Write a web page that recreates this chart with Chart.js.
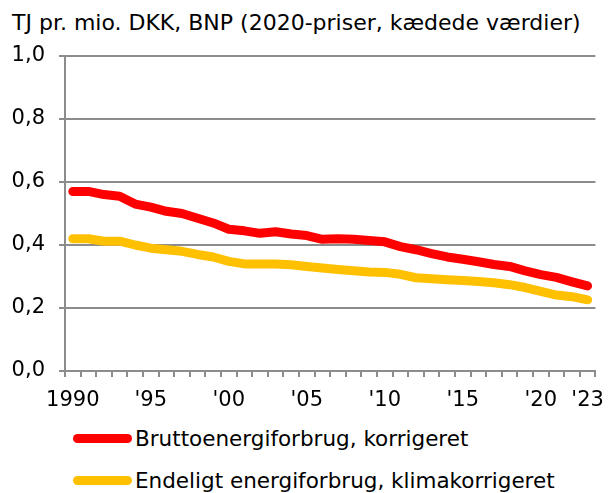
<!DOCTYPE html>
<html>
<head>
<meta charset="utf-8">
<script src="https://cdn.jsdelivr.net/npm/chart.js@4"></script>
<style>
  body { margin: 0; background: #fff; font-family: "DejaVu Sans", Verdana, sans-serif; color: #000; }
  #wrap { position: relative; width: 615px; height: 493px; overflow: hidden; }
  #title { position: absolute; left: 12px; top: 10px; font-size: 22px; white-space: nowrap; }
  #chartBox { position: absolute; left: 0; top: 0; width: 615px; height: 420px; }
  .leg { position: absolute; left: 73px; font-size: 21.5px; white-space: nowrap; display: flex; align-items: center; height: 26px; }
  .leg span.sw { display: inline-block; width: 59px; height: 9px; border-radius: 5px; margin-right: 3px; }
</style>
</head>
<body>
<div id="wrap">
  <div id="title">TJ pr. mio. DKK, BNP (2020-priser, kædede værdier)</div>
  <div id="chartBox"><canvas id="chart" width="615" height="420"></canvas></div>
  <div class="leg" style="top:425px"><span class="sw" style="background:#ff0000"></span>Bruttoenergiforbrug, korrigeret</div>
  <div class="leg" style="top:467px"><span class="sw" style="background:#ffc000"></span>Endeligt energiforbrug, klimakorrigeret</div>
</div>
<script>
const years = [];
for (let y = 1990; y <= 2023; y++) years.push(y);

const tickLabels = { 1990: "1990", 1995: "'95", 2000: "'00", 2005: "'05", 2010: "'10", 2015: "'15", 2020: "'20", 2023: "'23" };

const brutto = [
  0.570, 0.570, 0.560, 0.555, 0.530, 0.520, 0.507, 0.500, 0.485, 0.470,
  0.450, 0.445, 0.437, 0.442, 0.435, 0.430, 0.418, 0.420, 0.418, 0.414,
  0.410, 0.395, 0.385, 0.373, 0.362, 0.355, 0.347, 0.338, 0.332, 0.318,
  0.306, 0.297, 0.283, 0.270
];

const endeligt = [
  0.420, 0.420, 0.412, 0.412, 0.400, 0.390, 0.385, 0.380, 0.370, 0.362,
  0.348, 0.340, 0.340, 0.340, 0.337, 0.332, 0.327, 0.322, 0.318, 0.314,
  0.313, 0.307, 0.296, 0.293, 0.290, 0.287, 0.284, 0.280, 0.274, 0.265,
  0.253, 0.241, 0.236, 0.226
];

const gridColor = "#8c8c8c";
const font = { family: "'DejaVu Sans', Verdana, sans-serif", size: 21 };

new Chart(document.getElementById("chart"), {
  type: "line",
  data: {
    labels: years,
    datasets: [
      {
        label: "Bruttoenergiforbrug, korrigeret",
        data: brutto,
        borderColor: "#ff0000",
        borderWidth: 9,
        pointRadius: 0,
        borderCapStyle: "round",
        borderJoinStyle: "round",
        tension: 0,
      },
      {
        label: "Endeligt energiforbrug, klimakorrigeret",
        data: endeligt,
        borderColor: "#ffc000",
        borderWidth: 9,
        pointRadius: 0,
        borderCapStyle: "round",
        borderJoinStyle: "round",
        tension: 0,
      },
    ],
  },
  options: {
    responsive: false,
    animation: false,
    layout: { padding: { top: 56, right: 10, left: 0, bottom: 0 } },
    plugins: { legend: { display: false }, tooltip: { enabled: false } },
    scales: {
      x: {
        offset: true,
        afterFit: (s) => { s.height = 49; },
        grid: { drawOnChartArea: false, drawTicks: true, tickLength: 6, color: gridColor, lineWidth: 2, offset: true },
        border: { color: gridColor, width: 2 },
        ticks: {
          color: "#000",
          font: font,
          autoSkip: false,
          maxRotation: 0,
          padding: 11,
          callback: (v, i) => tickLabels[years[i]] || "",
        },
      },
      y: {
        min: 0,
        max: 1,
        afterFit: (s) => { s.width = 65; },
        grid: { color: gridColor, lineWidth: 2, tickLength: 6 },
        border: { color: gridColor, width: 2 },
        ticks: {
          stepSize: 0.2,
          color: "#000",
          font: font,
          padding: 14,
          callback: (v) => v.toFixed(1).replace(".", ","),
        },
      },
    },
  },
});
</script>
</body>
</html>
